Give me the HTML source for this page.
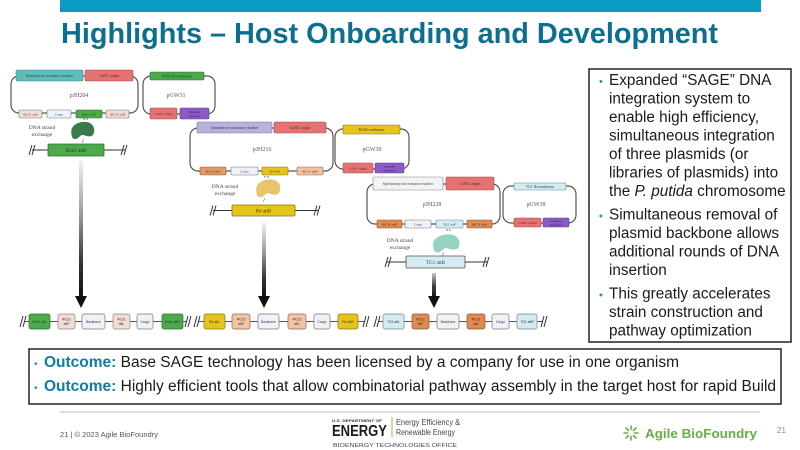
<!DOCTYPE html>
<html><head><meta charset="utf-8">
<style>
html,body{margin:0;padding:0;background:#fff;width:800px;height:450px;overflow:hidden;}
svg{display:block;}
</style></head><body>
<svg width="800" height="450" viewBox="0 0 800 450" xmlns="http://www.w3.org/2000/svg">
<defs>
<linearGradient id="g1" x1="0" y1="0" x2="0" y2="1">
<stop offset="0" stop-color="#f4f4f4"/><stop offset="0.4" stop-color="#9a9a9a"/><stop offset="0.75" stop-color="#333"/><stop offset="1" stop-color="#111"/>
</linearGradient>
<linearGradient id="g3" x1="0" y1="0" x2="0" y2="1">
<stop offset="0" stop-color="#c8c8c8"/><stop offset="0.5" stop-color="#444"/><stop offset="1" stop-color="#111"/>
</linearGradient>
</defs>

<!-- header -->
<rect x="60" y="0" width="701" height="12" fill="#0a9cc0"/>
<text x="61" y="43" font-family="Liberation Sans, sans-serif" font-weight="bold" font-size="29" fill="#0d6f8f" textLength="657" lengthAdjust="spacingAndGlyphs">Highlights – Host Onboarding and Development</text>

<g font-family="Liberation Serif, serif" text-anchor="middle">
<!-- ===== Diagram 1 ===== -->
<rect x="11" y="76" width="127" height="37" rx="8" fill="none" stroke="#555" stroke-width="1.2"/>
<rect x="16" y="70" width="67" height="11" rx="1.5" fill="#5dbdb9" stroke="#3d8f8c" stroke-width=".6"/>
<text x="49.5" y="77" font-size="4" fill="#1d4d4c">Kanamycin resistance marker</text>
<rect x="85" y="70" width="48" height="11" rx="1.5" fill="#e57373" stroke="#a94a4a" stroke-width=".6"/>
<text x="109" y="77" font-size="4" fill="#5a1f1f">ColE1 origin</text>
<text x="79" y="97" font-size="6" fill="#555">pJH204</text>
<rect x="19" y="110" width="23" height="8" rx="1.2" fill="#f2dcd6" stroke="#777" stroke-width=".6"/>
<text x="30.5" y="115.5" font-size="3.5" fill="#444">ΦC31 attP</text>
<rect x="47" y="110" width="24" height="8" rx="1.2" fill="#eef2f8" stroke="#777" stroke-width=".6"/>
<text x="59" y="115.5" font-size="3.5" fill="#444">Cargo</text>
<rect x="76" y="110" width="26" height="8" rx="1.2" fill="#4caa4c" stroke="#2e6e2e" stroke-width=".6"/>
<text x="89" y="115.5" font-size="3.5" fill="#173d17">Bxb1 attP</text>
<rect x="106" y="110" width="23" height="8" rx="1.2" fill="#f2dcd6" stroke="#777" stroke-width=".6"/>
<text x="117.5" y="115.5" font-size="3.5" fill="#444">ΦC31 attB</text>

<rect x="143" y="76" width="72" height="38" rx="8" fill="none" stroke="#555" stroke-width="1.2"/>
<rect x="150" y="72" width="54" height="8" rx="1.2" fill="#4caa4c" stroke="#2e6e2e" stroke-width=".6"/>
<text x="177" y="77.5" font-size="3.8" fill="#173d17">Bxb1 Recombinase</text>
<text x="176" y="97" font-size="6" fill="#555">pGW31</text>
<rect x="150" y="108" width="27" height="11" rx="1.5" fill="#e57373" stroke="#a94a4a" stroke-width=".6"/>
<text x="163.5" y="115" font-size="3.5" fill="#5a1f1f">ColE1 origin</text>
<rect x="180" y="108" width="29" height="11" rx="1.5" fill="#8b5cc6" stroke="#5d3a8f" stroke-width=".6"/>
<text x="194.5" y="113" font-size="3" fill="#2d1a4a">Integrase</text>
<text x="194.5" y="117" font-size="3" fill="#2d1a4a">expression</text>

<text x="42" y="129" font-size="5.5" fill="#444">DNA strand</text>
<text x="42" y="136" font-size="5.5" fill="#444">exchange</text>
<circle cx="84" cy="119" r=".7" fill="#555"/><circle cx="87" cy="119" r=".7" fill="#555"/>
<path transform="translate(82.5,131)" d="M-11,3 C-13,-6 -3,-10 4,-9 C11,-8 13,-2 11,3 C9,7 4,5 1,4 C-2,3 -4,8 -7,8 C-10,8 -11,6 -11,3 Z" fill="#3b7a4a"/>
<path d="M83,139 q1,1 0,2 q-1,1 0,2" fill="none" stroke="#555" stroke-width=".5"/>
<line x1="32" y1="150" x2="125" y2="150" stroke="#333" stroke-width="1"/>
<rect x="48" y="144" width="56" height="12" rx="1" fill="#4caa4c" stroke="#2e6e2e" stroke-width=".8"/>
<text x="76" y="152" font-size="5" fill="#173d17">Bxb1 attB</text>
<g stroke="#333" stroke-width="1"><line x1="29" y1="155" x2="32" y2="145"/><line x1="32" y1="155" x2="35" y2="145"/><line x1="121" y1="155" x2="124" y2="145"/><line x1="124" y1="155" x2="127" y2="145"/></g>

<!-- ===== Diagram 2 ===== -->
<rect x="190" y="128" width="143" height="43" rx="8" fill="none" stroke="#555" stroke-width="1.2"/>
<rect x="197" y="122" width="75" height="11" rx="1.5" fill="#b8b2de" stroke="#7a74a8" stroke-width=".6"/>
<text x="234.5" y="129" font-size="4" fill="#35315a">Gentamicin resistance marker</text>
<rect x="274" y="122" width="52" height="11" rx="1.5" fill="#e57373" stroke="#a94a4a" stroke-width=".6"/>
<text x="300" y="129" font-size="4" fill="#5a1f1f">ColE1 origin</text>
<text x="262" y="151" font-size="6" fill="#555">pJH216</text>
<rect x="200" y="167" width="26" height="8" rx="1.2" fill="#e39a68" stroke="#8a5a3a" stroke-width=".6"/>
<text x="213" y="172.5" font-size="3.5" fill="#4a2a14">ΦC31 attP</text>
<rect x="231" y="167" width="27" height="8" rx="1.2" fill="#eef2f8" stroke="#777" stroke-width=".6"/>
<text x="244.5" y="172.5" font-size="3.5" fill="#444">Cargo</text>
<rect x="262" y="167" width="26" height="8" rx="1.2" fill="#e6c51a" stroke="#8a7510" stroke-width=".6"/>
<text x="275" y="172.5" font-size="3.5" fill="#4a3d05">R4 attP</text>
<rect x="297" y="167" width="26" height="8" rx="1.2" fill="#f0c2a0" stroke="#8a6a55" stroke-width=".6"/>
<text x="310" y="172.5" font-size="3.5" fill="#4a2a14">ΦC31 attB</text>

<rect x="335" y="129" width="74" height="40" rx="8" fill="none" stroke="#555" stroke-width="1.2"/>
<rect x="343" y="125" width="57" height="9" rx="1.2" fill="#e6c51a" stroke="#8a7510" stroke-width=".6"/>
<text x="371.5" y="131" font-size="3.8" fill="#4a3d05">R4 Recombinase</text>
<text x="372" y="151" font-size="6" fill="#555">pGW39</text>
<rect x="343" y="163" width="30" height="10" rx="1.5" fill="#e57373" stroke="#a94a4a" stroke-width=".6"/>
<text x="358" y="169.5" font-size="3.5" fill="#5a1f1f">ColE1 origin</text>
<rect x="375" y="163" width="29" height="10" rx="1.5" fill="#8b5cc6" stroke="#5d3a8f" stroke-width=".6"/>
<text x="389.5" y="167.5" font-size="3" fill="#2d1a4a">Integrase</text>
<text x="389.5" y="171.5" font-size="3" fill="#2d1a4a">expression</text>

<text x="225" y="188" font-size="5.5" fill="#444">DNA strand</text>
<text x="225" y="195" font-size="5.5" fill="#444">exchange</text>
<circle cx="265" cy="177" r=".7" fill="#555"/><circle cx="268" cy="177" r=".7" fill="#555"/>
<path transform="translate(268,189) scale(1.05)" d="M-11,3 C-13,-6 -3,-10 4,-9 C11,-8 13,-2 11,3 C9,7 4,5 1,4 C-2,3 -4,8 -7,8 C-10,8 -11,6 -11,3 Z" fill="#e8c46c"/>
<path d="M264,198 q1,1 0,2 q-1,1 0,2" fill="none" stroke="#555" stroke-width=".5"/>
<line x1="213" y1="210.5" x2="318" y2="210.5" stroke="#333" stroke-width="1"/>
<rect x="232" y="205" width="63" height="11" rx="1" fill="#e6c51a" stroke="#8a7510" stroke-width=".8"/>
<text x="263.5" y="212.5" font-size="5" fill="#4a3d05">R4 attB</text>
<g stroke="#333" stroke-width="1"><line x1="210" y1="215.5" x2="213" y2="205.5"/><line x1="213" y1="215.5" x2="216" y2="205.5"/><line x1="314" y1="215.5" x2="317" y2="205.5"/><line x1="317" y1="215.5" x2="320" y2="205.5"/></g>

<!-- ===== Diagram 3 ===== -->
<rect x="367" y="184" width="133" height="40" rx="8" fill="none" stroke="#555" stroke-width="1.2"/>
<rect x="373" y="177" width="70" height="13" rx="1.5" fill="#f3f3f6" stroke="#888" stroke-width=".6"/>
<text x="408" y="185" font-size="3.8" fill="#444">Spectinomycin resistance marker</text>
<rect x="446" y="177" width="48" height="13" rx="1.5" fill="#e57373" stroke="#a94a4a" stroke-width=".6"/>
<text x="470" y="185" font-size="4" fill="#5a1f1f">ColE1 origin</text>
<text x="432" y="206" font-size="6" fill="#555">pJH228</text>
<rect x="377" y="220" width="25" height="8" rx="1.2" fill="#e08a52" stroke="#8a5530" stroke-width=".6"/>
<text x="389.5" y="225.5" font-size="3.5" fill="#4a2a14">ΦC31 attP</text>
<rect x="405" y="220" width="26" height="8" rx="1.2" fill="#eef2f8" stroke="#777" stroke-width=".6"/>
<text x="418" y="225.5" font-size="3.5" fill="#444">Cargo</text>
<rect x="436" y="220" width="27" height="8" rx="1.2" fill="#d3ebf1" stroke="#6a8a92" stroke-width=".6"/>
<text x="449.5" y="225.5" font-size="3.5" fill="#2a4a52">TG1 attP</text>
<rect x="467" y="220" width="25" height="8" rx="1.2" fill="#e08a52" stroke="#8a5530" stroke-width=".6"/>
<text x="479.5" y="225.5" font-size="3.5" fill="#4a2a14">ΦC31 attB</text>

<rect x="503" y="186" width="73" height="37" rx="8" fill="none" stroke="#555" stroke-width="1.2"/>
<rect x="514" y="183" width="52" height="7" rx="1.2" fill="#d3ebf1" stroke="#6a8a92" stroke-width=".6"/>
<text x="540" y="188" font-size="3.8" fill="#2a4a52">TG1 Recombinase</text>
<text x="536" y="206" font-size="6" fill="#555">pGW38</text>
<rect x="514" y="218" width="27" height="9" rx="1.5" fill="#e57373" stroke="#a94a4a" stroke-width=".6"/>
<text x="527.5" y="224" font-size="3.5" fill="#5a1f1f">ColE1 origin</text>
<rect x="543" y="218" width="26" height="9" rx="1.5" fill="#8b5cc6" stroke="#5d3a8f" stroke-width=".6"/>
<text x="556" y="222" font-size="3" fill="#2d1a4a">Integrase</text>
<text x="556" y="226" font-size="3" fill="#2d1a4a">expression</text>

<text x="400" y="242" font-size="5.5" fill="#444">DNA strand</text>
<text x="400" y="249" font-size="5.5" fill="#444">exchange</text>
<circle cx="447" cy="230" r=".7" fill="#555"/><circle cx="450" cy="230" r=".7" fill="#555"/>
<path transform="translate(446,244) scale(1.15,1.05)" d="M-11,3 C-13,-6 -3,-10 4,-9 C11,-8 13,-2 11,3 C9,7 4,5 1,4 C-2,3 -4,8 -7,8 C-10,8 -11,6 -11,3 Z" fill="#94d2c2"/>
<path d="M443,252 q1,1 0,2 q-1,1 0,2" fill="none" stroke="#555" stroke-width=".5"/>
<line x1="387" y1="262" x2="487" y2="262" stroke="#333" stroke-width="1"/>
<rect x="406" y="256" width="59" height="12" rx="1" fill="#d3ebf1" stroke="#555" stroke-width=".8"/>
<text x="435.5" y="264" font-size="5" fill="#2a4a52">TG1 attB</text>
<g stroke="#333" stroke-width="1"><line x1="385" y1="267" x2="388" y2="257"/><line x1="388" y1="267" x2="391" y2="257"/><line x1="483" y1="267" x2="486" y2="257"/><line x1="486" y1="267" x2="489" y2="257"/></g>

<!-- arrows -->
<rect x="79" y="160" width="4" height="138" fill="url(#g1)"/>
<polygon points="75,296 87,296 81,308" fill="#111"/>
<rect x="262" y="222" width="4" height="76" fill="url(#g1)"/>
<polygon points="258,296 270,296 264,308" fill="#111"/>
<rect x="432" y="273" width="4" height="25" fill="url(#g3)"/>
<polygon points="428,296 440,296 434,308" fill="#111"/>

<!-- bottom row -->
<g stroke="#555" stroke-width="1">
<line x1="25" y1="321.5" x2="187" y2="321.5"/>
<line x1="199" y1="321.5" x2="365" y2="321.5"/>
<line x1="379" y1="321.5" x2="543" y2="321.5"/>
</g>
<g stroke="#333" stroke-width="1">
<line x1="20" y1="327" x2="23" y2="316"/><line x1="23" y1="327" x2="26" y2="316"/>
<line x1="185" y1="327" x2="188" y2="316"/><line x1="188" y1="327" x2="191" y2="316"/>
<line x1="194" y1="327" x2="197" y2="316"/><line x1="197" y1="327" x2="200" y2="316"/>
<line x1="363" y1="327" x2="366" y2="316"/><line x1="366" y1="327" x2="369" y2="316"/>
<line x1="374" y1="327" x2="377" y2="316"/><line x1="377" y1="327" x2="380" y2="316"/>
<line x1="541" y1="327" x2="544" y2="316"/><line x1="544" y1="327" x2="547" y2="316"/>
</g>
<g stroke-width=".7">
<rect x="29" y="314" width="21" height="15" rx="2" fill="#4caa4c" stroke="#2e6e2e"/>
<rect x="58" y="314" width="17" height="15" rx="2" fill="#f2dcd6" stroke="#888"/>
<rect x="82" y="314" width="23" height="15" rx="2" fill="#eef2f8" stroke="#777"/>
<rect x="113" y="314" width="17" height="15" rx="2" fill="#f2dcd6" stroke="#888"/>
<rect x="137" y="314" width="16" height="15" rx="2" fill="#eef2f8" stroke="#777"/>
<rect x="162" y="314" width="21" height="15" rx="2" fill="#4caa4c" stroke="#2e6e2e"/>
<rect x="204" y="314" width="21" height="15" rx="2" fill="#e6c51a" stroke="#8a7510"/>
<rect x="232" y="314" width="18" height="15" rx="2" fill="#f3c3a3" stroke="#8a6a55"/>
<rect x="258" y="314" width="21" height="15" rx="2" fill="#eef2f8" stroke="#777"/>
<rect x="288" y="314" width="18" height="15" rx="2" fill="#f3c3a3" stroke="#8a6a55"/>
<rect x="314" y="314" width="16" height="15" rx="2" fill="#eef2f8" stroke="#777"/>
<rect x="338" y="314" width="20" height="15" rx="2" fill="#e6c51a" stroke="#8a7510"/>
<rect x="383" y="314" width="21" height="15" rx="2" fill="#d3ebf1" stroke="#6a8a92"/>
<rect x="412" y="314" width="17" height="15" rx="2" fill="#e08a52" stroke="#8a5530"/>
<rect x="437" y="314" width="22" height="15" rx="2" fill="#eef2f8" stroke="#777"/>
<rect x="467" y="314" width="18" height="15" rx="2" fill="#e08a52" stroke="#8a5530"/>
<rect x="492" y="314" width="17" height="15" rx="2" fill="#eef2f8" stroke="#777"/>
<rect x="517" y="314" width="20" height="15" rx="2" fill="#d3ebf1" stroke="#6a8a92"/>
</g>
<g font-size="3.3" fill="#333" font-family="Liberation Sans, sans-serif">
<text x="39.5" y="323">Bxb1 attL</text>
<text x="66.5" y="320.5">ΦC31</text><text x="66.5" y="325">attP</text>
<text x="93.5" y="323">Backbone</text>
<text x="121.5" y="320.5">ΦC31</text><text x="121.5" y="325">attL</text>
<text x="145" y="323">Cargo</text>
<text x="172.5" y="323">Bxb1 attR</text>
<text x="214.5" y="323">R4 attL</text>
<text x="241" y="320.5">ΦC31</text><text x="241" y="325">attP</text>
<text x="268.5" y="323">Backbone</text>
<text x="297" y="320.5">ΦC31</text><text x="297" y="325">attL</text>
<text x="322" y="323">Cargo</text>
<text x="348" y="323">R4 attR</text>
<text x="393.5" y="323">TG1 attL</text>
<text x="420.5" y="320.5">ΦC31</text><text x="420.5" y="325">attP</text>
<text x="448" y="323">Backbone</text>
<text x="476" y="320.5">ΦC31</text><text x="476" y="325">attL</text>
<text x="500.5" y="323">Cargo</text>
<text x="527" y="323">TG1 attR</text>
</g>
</g>

<!-- right text box -->
<rect x="589" y="69" width="202" height="273" fill="none" stroke="#222" stroke-width="1.5"/>
<g font-family="Liberation Sans, sans-serif" font-size="15.3" fill="#1a1a1a">
<text x="599" y="85" font-size="11" fill="#2a8fb0">•</text>
<text x="609" y="85">Expanded “SAGE” DNA</text>
<text x="609" y="103.5">integration system to</text>
<text x="609" y="122">enable high efficiency,</text>
<text x="609" y="140.5">simultaneous integration</text>
<text x="609" y="159">of three plasmids (or</text>
<text x="609" y="177.5">libraries of plasmids) into</text>
<text x="609" y="196">the <tspan font-style="italic">P. putida</tspan> chromosome</text>
<text x="599" y="219.5" font-size="11" fill="#2a8fb0">•</text>
<text x="609" y="219.5">Simultaneous removal of</text>
<text x="609" y="238">plasmid backbone allows</text>
<text x="609" y="256.5">additional rounds of DNA</text>
<text x="609" y="275">insertion</text>
<text x="599" y="298.5" font-size="11" fill="#2a8fb0">•</text>
<text x="609" y="298.5">This greatly accelerates</text>
<text x="609" y="317">strain construction and</text>
<text x="609" y="335.5">pathway optimization</text>
</g>

<!-- outcome box -->
<rect x="29" y="349" width="752" height="55" fill="none" stroke="#222" stroke-width="1.5"/>
<g font-family="Liberation Sans, sans-serif" font-size="15.5" fill="#1a1a1a">
<text x="34" y="367" font-size="10" fill="#2a8fb0">•</text>
<text x="44" y="367"><tspan font-weight="bold" fill="#0e7ea6">Outcome:</tspan> Base SAGE technology has been licensed by a company for use in one organism</text>
<text x="34" y="391" font-size="10" fill="#2a8fb0">•</text>
<text x="44" y="391"><tspan font-weight="bold" fill="#0e7ea6">Outcome:</tspan> Highly efficient tools that allow combinatorial pathway assembly in the target host for rapid Build</text>
</g>

<!-- footer -->
<line x1="60" y1="412" x2="760" y2="412" stroke="#d4d4d4" stroke-width="1.5"/>
<text x="60" y="437" font-family="Liberation Sans, sans-serif" font-size="7" fill="#555" textLength="98" lengthAdjust="spacingAndGlyphs">21  |  © 2023 Agile BioFoundry</text>

<g font-family="Liberation Sans, sans-serif">
<text x="332" y="422" font-size="3.8" font-weight="bold" fill="#333" textLength="50" lengthAdjust="spacingAndGlyphs">U.S. DEPARTMENT OF</text>
<text x="332" y="436" font-size="16" font-weight="bold" fill="#1a1a1a" textLength="55" lengthAdjust="spacingAndGlyphs">ENERGY</text>
<line x1="392" y1="417" x2="392" y2="437" stroke="#c9a14a" stroke-width="1"/>
<text x="396" y="425" font-size="8" fill="#444" textLength="64" lengthAdjust="spacingAndGlyphs">Energy Efficiency &amp;</text>
<text x="396" y="435" font-size="8" fill="#444" textLength="59" lengthAdjust="spacingAndGlyphs">Renewable Energy</text>
<text x="333" y="447" font-size="5.5" fill="#444" textLength="124" lengthAdjust="spacingAndGlyphs">BIOENERGY TECHNOLOGIES OFFICE</text>
</g>

<g stroke="#6ab04c" stroke-width="1.6" stroke-linecap="round">
<line x1="631" y1="429.5" x2="631" y2="426"/>
<line x1="631" y1="436.5" x2="631" y2="440"/>
<line x1="627.5" y1="433" x2="624" y2="433"/>
<line x1="634.5" y1="433" x2="638" y2="433"/>
<line x1="628.5" y1="430.5" x2="626" y2="428"/>
<line x1="633.5" y1="430.5" x2="636" y2="428"/>
<line x1="628.5" y1="435.5" x2="626" y2="438"/>
<line x1="633.5" y1="435.5" x2="636" y2="438"/>
</g>
<text x="645" y="438" font-family="Liberation Sans, sans-serif" font-size="13" font-weight="bold" fill="#64b046" textLength="112" lengthAdjust="spacingAndGlyphs">Agile BioFoundry</text>
<text x="777" y="433" font-family="Liberation Sans, sans-serif" font-size="8" fill="#888">21</text>
</svg>
</body></html>
